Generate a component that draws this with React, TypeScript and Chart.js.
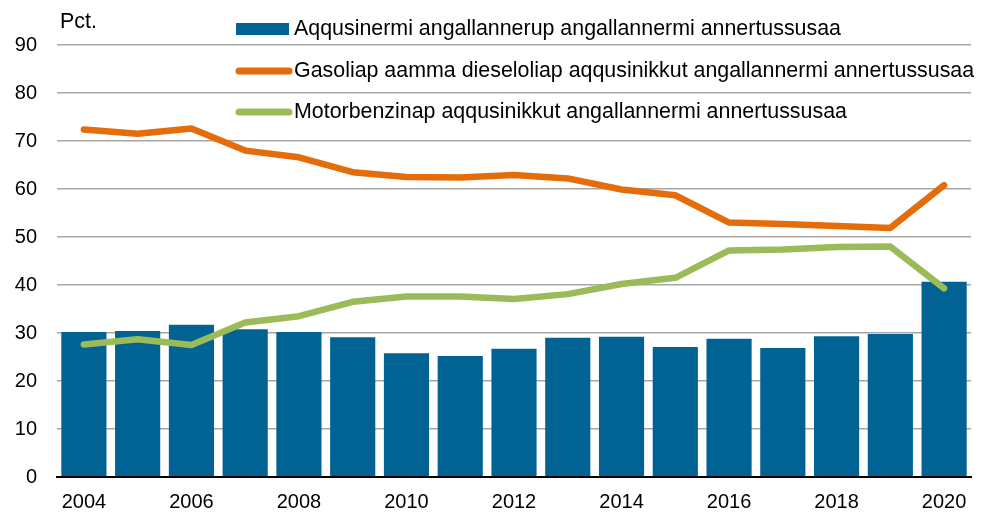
import React, { useEffect, useRef } from "react";
import { Chart, registerables } from "chart.js";

Chart.register(...registerables);

const years = ["2004","2005","2006","2007","2008","2009","2010","2011","2012","2013","2014","2015","2016","2017","2018","2019","2020"];
const roadTransport = [30.2, 30.4, 31.7, 30.8, 30.2, 29.1, 25.8, 25.2, 26.7, 29.0, 29.2, 27.1, 28.8, 26.9, 29.3, 29.8, 40.7];
const gasoilDiesel = [72.4, 71.5, 72.6, 68.0, 66.6, 63.5, 62.5, 62.4, 62.9, 62.2, 59.9, 58.7, 53.0, 52.7, 52.3, 51.9, 60.8];
const motorGasoline = [27.6, 28.7, 27.5, 32.2, 33.5, 36.5, 37.6, 37.6, 37.1, 38.1, 40.2, 41.5, 47.2, 47.4, 47.9, 48.0, 39.3];
const seriesLabels = [
  "Aqqusinermi angallannerup angallannermi annertussusaa",
  "Gasoliap aamma dieseloliap aqqusinikkut angallannermi annertussusaa",
  "Motorbenzinap aqqusinikkut angallannermi annertussusaa",
];
const yTicks = [0, 10, 20, 30, 40, 50, 60, 70, 80, 90];
const unitLabel = "Pct.";

const FONT = "'Liberation Sans', Arial, sans-serif";
const BLUE = "#006394";
const ORANGE = "#E46C0A";
const GREEN = "#9BBB59";

const legendPlugin = {
  id: "customLegend",
  afterDraw(chart: any) {
    const ctx = chart.ctx;
    ctx.save();
    ctx.font = `21.4px ${FONT}`;
    ctx.fillStyle = "#000";
    ctx.textBaseline = "middle";
    ctx.textAlign = "left";
    ctx.fillText(unitLabel, 60, 22);
    const rows = [29, 71, 112];
    const sx = 236;
    const ex = 289;
    chart.data.datasets.forEach((ds: any, i: number) => {
      const y = rows[i];
      if (ds.type === "bar") {
        ctx.fillStyle = ds.backgroundColor;
        ctx.fillRect(sx, y - 6, ex - sx, 12);
      } else {
        ctx.strokeStyle = ds.borderColor;
        ctx.lineWidth = 7;
        ctx.lineCap = "round";
        ctx.beginPath();
        ctx.moveTo(sx + 3, y);
        ctx.lineTo(ex, y);
        ctx.stroke();
      }
      ctx.fillStyle = "#000";
      ctx.fillText(ds.label, 294, y);
    });
    ctx.restore();
  },
};

export default function App() {
  const ref = useRef<HTMLCanvasElement | null>(null);
  useEffect(() => {
    document.body.style.margin = "0";
    if (!ref.current) return;
    const chart = new Chart(ref.current, {
      type: "bar",
      data: {
        labels: years,
        datasets: [
          {
            type: "bar",
            label: seriesLabels[0],
            data: roadTransport,
            backgroundColor: BLUE,
            borderWidth: 0,
            barPercentage: 0.84,
            categoryPercentage: 1,
            order: 3,
          } as any,
          {
            type: "line",
            label: seriesLabels[1],
            data: gasoilDiesel,
            borderColor: ORANGE,
            backgroundColor: ORANGE,
            borderWidth: 6.5,
            borderCapStyle: "round",
            borderJoinStyle: "round",
            pointRadius: 0,
            tension: 0,
            order: 1,
          } as any,
          {
            type: "line",
            label: seriesLabels[2],
            data: motorGasoline,
            borderColor: GREEN,
            backgroundColor: GREEN,
            borderWidth: 6.5,
            borderCapStyle: "round",
            borderJoinStyle: "round",
            pointRadius: 0,
            tension: 0,
            order: 2,
          } as any,
        ],
      },
      options: {
        responsive: false,
        animation: false,
        layout: { padding: { top: 45, right: 18, left: 0, bottom: 0 } },
        plugins: {
          legend: { display: false },
          tooltip: { enabled: false },
        },
        scales: {
          x: {
            grid: { display: false },
            border: { display: true, color: "#000", width: 2, z: 1 },
            ticks: {
              autoSkip: false,
              maxRotation: 0,
              padding: 5,
              color: "#000",
              font: { family: FONT, size: 20 },
              callback: (_v: any, i: number) => (i % 2 === 0 ? years[i] : ""),
            },
            afterFit: (s: any) => {
              s.height = 36;
            },
          },
          y: {
            min: 0,
            max: 90,
            afterBuildTicks: (s: any) => {
              s.ticks = yTicks.map((v) => ({ value: v }));
            },
            grid: {
              drawTicks: false,
              color: "#a6a6a6",
              lineWidth: 1.5,
            },
            border: { display: false },
            ticks: {
              padding: 20,
              color: "#000",
              font: { family: FONT, size: 20 },
            },
            afterFit: (s: any) => {
              s.width = 57;
            },
          },
        },
      },
      plugins: [legendPlugin],
    });
    return () => chart.destroy();
  }, []);
  return <canvas ref={ref} width={989} height={513} style={{ display: "block" }} />;
}
